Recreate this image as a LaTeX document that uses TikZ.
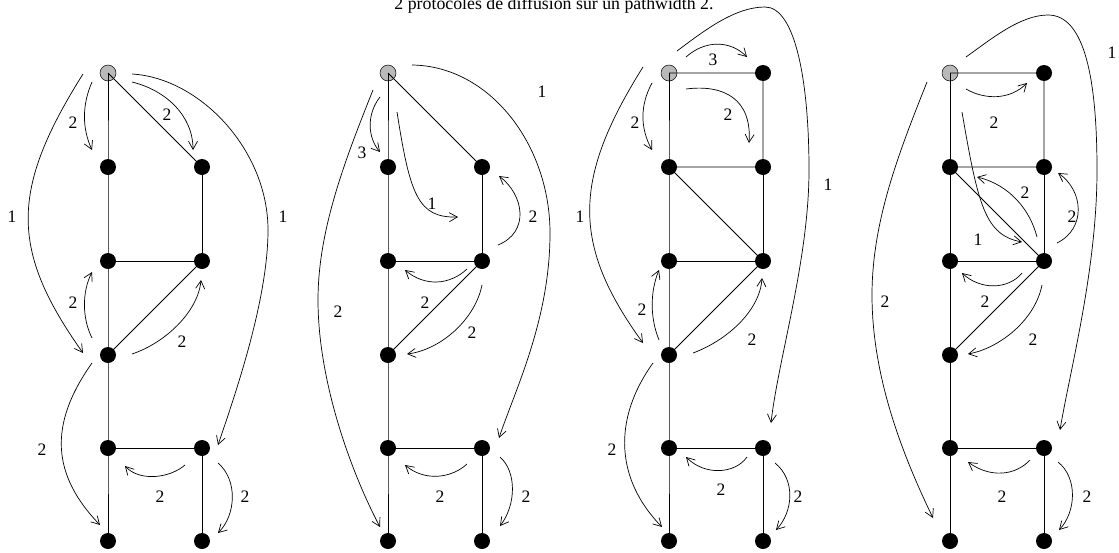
\documentclass[tikz,border=0pt]{standalone}
\usepackage{fontspec}
\setmainfont{Liberation Serif}
\usetikzlibrary{arrows.meta, calc}

\begin{document}
\begin{tikzpicture}[x=1pt, y=-1pt,
    vtx/.style={circle, fill=black, inner sep=0pt, minimum size=16pt},
    src/.style={vtx, fill=gray!55, draw=black, line width=0.5pt},
    edge/.style={line width=0.8pt},
    msg/.style={line width=0.7pt, -{Straight Barb[length=8pt, width=9pt, line width=0.7pt]}},
    lbl/.style={font=\fontsize{17.5}{20}\selectfont, inner sep=0pt},
    ttl/.style={font=\fontsize{17.8}{21}\selectfont, inner sep=0pt}]
  \useasboundingbox (0,0) rectangle (1119,552);
  \node[ttl, anchor=base] (title) at (554,9) {2 protocoles de diffusion sur un pathwidth 2.};

  % the four graphs: common part
  \foreach \g/\x in {1/108, 2/388, 3/669, 4/950}{
    \node[src] (s\g) at (\x,73) {};
    \node[vtx] (a\g) at (\x,167) {};
    \node[vtx] (b\g) at (\x+94,167) {};
    \node[vtx] (c\g) at (\x,261) {};
    \node[vtx] (d\g) at (\x+94,261) {};
    \node[vtx] (e\g) at (\x,355) {};
    \node[vtx] (f\g) at (\x,448) {};
    \node[vtx] (g\g) at (\x+94,448) {};
    \node[vtx] (h\g) at (\x,541) {};
    \node[vtx] (i\g) at (\x+94,541) {};
    \draw[edge] (s\g.center) -- (a\g.center) -- (c\g.center) -- (e\g.center) -- (f\g.center) -- (h\g.center);
    \draw[edge] (b\g.center) -- (d\g.center) -- (c\g.center);
    \draw[edge] (e\g.center) -- (d\g.center);
    \draw[edge] (f\g.center) -- (g\g.center) -- (i\g.center);
  }
  \foreach \g in {1, 2}
    \draw[edge] (s\g.center) -- (b\g.center);
  \foreach \g/\x in {3/669, 4/950}{
    \node[vtx] (t\g) at (\x+94,73) {};
    \draw[edge] (s\g.center) -- (t\g.center) -- (b\g.center) -- (a\g.center) -- (d\g.center);
  }

  % graph 1
  \draw[msg] ($(s1)+(-25,1)$) .. controls (10,190) and (10,250) .. ($(e1)+(-25,-2)$);
  \draw[msg] ($(s1)+(-16,9)$) .. controls (82,105) and (82,128) .. ($(a1)+(-16,-17)$);
  \draw[msg] ($(s1)+(24,9)$) .. controls (165,90) and (193,115) .. ($(b1)+(-9,-17)$);
  \draw[msg] ($(s1)+(24,1)$) .. controls (200,78) and (268,150) .. (268,230)
    .. controls (268,300) and (235,395) .. ($(g1)+(16,-3)$);
  \draw[msg] ($(e1)+(-16,-17)$) .. controls (82,318) and (82,292) .. ($(c1)+(-16,11)$);
  \draw[msg] ($(e1)+(24,-1)$) .. controls (165,343) and (198,312) .. ($(d1)+(-1,19)$);
  \draw[msg] ($(e1)+(-16,8)$) .. controls (48,425) and (52,475) .. ($(h1)+(-8,-16)$);
  \draw[msg] ($(g1)+(-17,17)$) .. controls (170,478) and (140,482) .. ($(f1)+(17,18)$);
  \draw[msg] ($(g1)+(16,15)$) .. controls (238,480) and (236,515) .. ($(i1)+(16,-8)$);
  \node[lbl] (l1a) at (12,217) {1};
  \node[lbl] (l1b) at (73,123) {2};
  \node[lbl] (l1c) at (167,115) {2};
  \node[lbl] (l1d) at (283,217) {1};
  \node[lbl] (l1e) at (73,303) {2};
  \node[lbl] (l1f) at (182,342) {2};
  \node[lbl] (l1g) at (42,450) {2};
  \node[lbl] (l1h) at (160,497) {2};
  \node[lbl] (l1i) at (245,497) {2};

  % graph 2
  \draw[msg] ($(s2)+(-15,17)$) .. controls (345,160) and (318,230) .. (318,300)
    .. controls (318,380) and (350,470) .. ($(h2)+(-8,-14)$);
  \draw[msg] ($(s2)+(-8,24)$) .. controls (366,115) and (368,138) .. ($(a2)+(-8,-15)$);
  \draw[msg] ($(s2)+(9,39)$) .. controls (410,195) and (418,218) .. ($(d2)+(-24,-44)$);
  \draw[msg] ($(s2)+(24,-8)$) .. controls (490,66) and (550,145) .. (550,233)
    .. controls (550,320) and (515,390) .. ($(g2)+(17,-10)$);
  \draw[msg] ($(d2)+(16,-16)$) .. controls (530,232) and (524,195) .. ($(b2)+(17,9)$);
  \draw[msg] ($(d2)+(-15,8)$) .. controls (450,285) and (425,287) .. ($(c2)+(17,9)$);
  \draw[msg] ($(d2)+(0,24)$) .. controls (475,320) and (440,350) .. ($(e2)+(19,-1)$);
  \draw[msg] ($(g2)+(-15,16)$) .. controls (452,478) and (425,482) .. ($(f2)+(17,17)$);
  \draw[msg] ($(g2)+(18,9)$) .. controls (517,472) and (516,505) .. ($(i2)+(18,-15)$);
  \node[lbl] (l2a) at (338,312) {2};
  \node[lbl] (l2b) at (362,153) {3};
  \node[lbl] (l2c) at (432,204) {1};
  \node[lbl] (l2d) at (542,92) {1};
  \node[lbl] (l2e) at (533,217) {2};
  \node[lbl] (l2f) at (425,303) {2};
  \node[lbl] (l2g) at (472,333) {2};
  \node[lbl] (l2h) at (440,497) {2};
  \node[lbl] (l2i) at (526,497) {2};

  % graph 3
  \draw[msg] ($(s3)+(-26,-6)$) .. controls (572,180) and (572,245) .. ($(e3)+(-26,-12)$);
  \draw[msg] ($(s3)+(-17,10)$) .. controls (640,105) and (640,128) .. ($(a3)+(-17,-17)$);
  \draw[msg] ($(s3)+(17,-16)$) .. controls (705,40) and (730,40) .. ($(t3)+(-16,-16)$);
  \draw[msg] ($(s3)+(17,16)$) .. controls (725,84) and (752,100) .. ($(b3)+(-14,-24)$);
  \draw[msg] ($(s3)+(8,-22)$) .. controls (705,30) and (735,7) .. (765,7)
    .. controls (795,7) and (809,80) .. (809,170)
    .. controls (809,260) and (778,360) .. ($(g3)+(8,-25)$);
  \draw[msg] ($(e3)+(-10,-15)$) .. controls (650,318) and (650,292) .. ($(c3)+(-10,9)$);
  \draw[msg] ($(e3)+(24,-2)$) .. controls (728,340) and (760,310) .. ($(d3)+(-1,17)$);
  \draw[msg] ($(e3)+(-16,8)$) .. controls (612,420) and (616,480) .. ($(h3)+(-7,-14)$);
  \draw[msg] ($(g3)+(-16,9)$) .. controls (735,474) and (705,476) .. ($(f3)+(17,9)$);
  \draw[msg] ($(g3)+(12,15)$) .. controls (796,480) and (793,512) .. ($(i3)+(13,-11)$);
  \node[lbl] (l3a) at (580,217) {1};
  \node[lbl] (l3b) at (635,123) {2};
  \node[lbl] (l3c) at (713,60) {3};
  \node[lbl] (l3d) at (728,115) {2};
  \node[lbl] (l3e) at (828,185) {1};
  \node[lbl] (l3f) at (642,310) {2};
  \node[lbl] (l3g) at (752,340) {2};
  \node[lbl] (l3h) at (612,450) {2};
  \node[lbl] (l3i) at (721,490) {2};
  \node[lbl] (l3j) at (798,497) {2};

  % graph 4
  \draw[msg] ($(s4)+(-23,9)$) .. controls (900,150) and (872,220) .. (872,295)
    .. controls (872,380) and (905,460) .. ($(h4)+(-17,-23)$);
  \draw[msg] ($(s4)+(16,16)$) .. controls (985,100) and (1010,100) .. ($(t4)+(-17,10)$);
  \draw[msg] ($(s4)+(16,-16)$) .. controls (990,40) and (1020,15) .. (1048,15)
    .. controls (1085,15) and (1097,80) .. (1097,170)
    .. controls (1097,270) and (1070,370) .. ($(g4)+(16,-18)$);
  \draw[msg] ($(s4)+(12,39)$) .. controls (978,205) and (985,235) .. ($(d4)+(-22,-19)$);
  \draw[msg] ($(d4)+(-7,-24)$) .. controls (1030,210) and (1010,185) .. ($(a4)+(27,10)$);
  \draw[msg] ($(d4)+(13,-18)$) .. controls (1087,228) and (1083,190) .. ($(b4)+(14,6)$);
  \draw[msg] ($(d4)+(-22,12)$) .. controls (1008,290) and (980,290) .. ($(c4)+(12,12)$);
  \draw[msg] ($(d4)+(-2,24)$) .. controls (1035,320) and (1000,348) .. ($(e4)+(18,-1)$);
  \draw[msg] ($(g4)+(-14,12)$) .. controls (1015,476) and (990,478) .. ($(f4)+(18,14)$);
  \draw[msg] ($(g4)+(14,14)$) .. controls (1078,478) and (1076,512) .. ($(i4)+(15,-11)$);
  \node[lbl] (l4a) at (885,302) {2};
  \node[lbl] (l4b) at (994,123) {2};
  \node[lbl] (l4c) at (1112,53) {1};
  \node[lbl] (l4d) at (978,240) {1};
  \node[lbl] (l4e) at (1025,193) {2};
  \node[lbl] (l4f) at (1072,217) {2};
  \node[lbl] (l4g) at (985,302) {2};
  \node[lbl] (l4h) at (1033,340) {2};
  \node[lbl] (l4i) at (1002,497) {2};
  \node[lbl] (l4j) at (1087,497) {2};
\end{tikzpicture}
\end{document}
